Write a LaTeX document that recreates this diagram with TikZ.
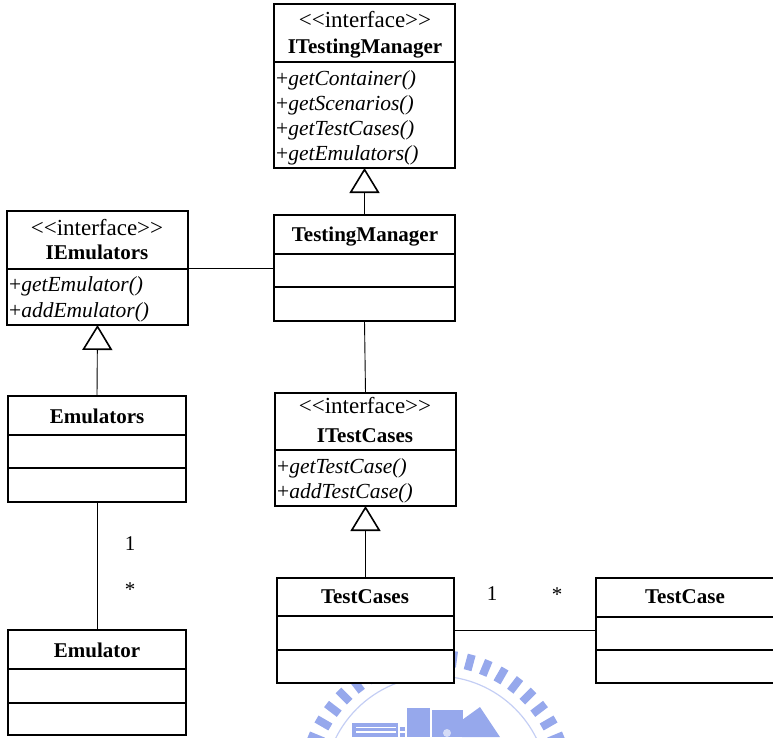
\documentclass[tikz,border=0pt]{standalone}
\usepackage{fontspec}
\setmainfont{Liberation Serif}
\usetikzlibrary{arrows.meta}

\definecolor{sealblue}{RGB}{150,168,236}
\definecolor{sealring}{RGB}{196,206,244}

\tikzset{
  classbox/.style={draw, line width=1.6pt, fill=white, inner sep=0pt, outer sep=0pt, anchor=north west},
  divider/.style={line width=1.6pt},
  txt/.style={inner sep=0pt, anchor=base, font=\fontsize{21}{25}\selectfont},
  stereotype/.style={txt, font=\fontsize{23}{25}\selectfont},
  title/.style={txt, font=\fontsize{21}{25}\selectfont\bfseries},
  op/.style={txt, anchor=base west, font=\fontsize{21.5}{25}\selectfont},
  mult/.style={txt},
  link/.style={line width=0.9pt},
  inherit/.style={line width=0.9pt, -{Triangle[open, width=30pt, length=25pt, line width=1.6pt]}},
}

% class box: name, left, top, right, bottom
\newcommand{\umlbox}[5]{%
  \node[classbox, minimum width={(#4-#2)*1pt}, minimum height={(#5-#3)*1pt}] (#1) at (#2,#3) {};}
% compartment divider inside a box at height y
\newcommand{\umldiv}[2]{\draw[divider] (#1.west |- 0,#2) -- (#1.east |- 0,#2);}
\newcommand{\opname}[1]{+\textit{#1}}
% stereotype, with the angle brackets kept apart
\newcommand{\stereo}{<{}<interface>{}>}

\begin{document}
\begin{tikzpicture}[x=1pt, y=-1pt]
\useasboundingbox (0,0) rectangle (773,737);
\clip (0,0) rectangle (773,737);

% faint seal in the background
\begin{scope}
  \coordinate (seal) at (436,788);
  \foreach \a in {0,7.5,...,180}{
    \draw[sealblue, line width=8pt]
      ({436+122*cos(\a)},{788-122*sin(\a)}) -- ({436+138*cos(\a)},{788-138*sin(\a)});
  }
  \draw[sealring, line width=1.2pt] (seal) circle[radius=112];
  \fill[sealblue] (352,723) rectangle (398,737);
  \draw[white, line width=1.2pt] (356,727.5) -- (396,727.5) (356,732) -- (396,732);
  \fill[sealblue] (400,727) rectangle (405,731);
  \fill[sealblue] (400,733) rectangle (405,737);
  \fill[sealblue] (407,708) rectangle (430,737);
  \fill[sealblue] (432,710) rectangle (463,737);
  \fill[white!60!sealblue] (447,733) circle[radius=4];
  \fill[sealblue] (462,737) -- (462,720) -- (480,707) -- (500,737) -- cycle;
\end{scope}

% ---- classes ----
\umlbox{itm}{274}{4}{455}{168}
\umldiv{itm}{62}
\node[stereotype] (itmS) at (365,27) {\stereo};
\node[title] (itmT) at (365,53) {ITestingManager};
\node[op] (itm1) at (276,85)  {\opname{getContainer()}};
\node[op] (itm2) at (276,110) {\opname{getScenarios()}};
\node[op] (itm3) at (276,135) {\opname{getTestCases()}};
\node[op] (itm4) at (276,160) {\opname{getEmulators()}};

\umlbox{tm}{274}{215}{455}{321}
\umldiv{tm}{254}
\umldiv{tm}{287}
\node[title] (tmT) at (365,241) {TestingManager};

\umlbox{iem}{7}{211}{188}{325}
\umldiv{iem}{269}
\node[stereotype] (iemS) at (97,235) {\stereo};
\node[title] (iemT) at (97,259) {IEmulators};
\node[op] (iem1) at (9,291) {\opname{getEmulator()}};
\node[op] (iem2) at (9,317) {\opname{addEmulator()}};

\umlbox{ems}{8}{396}{186}{502}
\umldiv{ems}{435}
\umldiv{ems}{468}
\node[title] (emsT) at (97,423) {Emulators};

\umlbox{em}{8}{630}{186}{735}
\umldiv{em}{669}
\umldiv{em}{703}
\node[title] (emT) at (97,657) {Emulator};

\umlbox{itc}{275}{393}{456}{506}
\umldiv{itc}{450}
\node[stereotype] (itcS) at (365,413) {\stereo};
\node[title] (itcT) at (365,442) {ITestCases};
\node[op] (itc1) at (277,473) {\opname{getTestCase()}};
\node[op] (itc2) at (277,498) {\opname{addTestCase()}};

\umlbox{tcs}{277}{578}{454}{683}
\umldiv{tcs}{616}
\umldiv{tcs}{650}
\node[title] (tcsT) at (365,603) {TestCases};

% this box runs on past the right edge of the page
\umlbox{tc}{596}{578}{900}{683}
\umldiv{tc}{617}
\umldiv{tc}{650}
\node[title] (tcT) at (685,603) {TestCase};

% ---- relations ----
\draw[inherit] (tm.north) -- (itm.south);
\draw[inherit] (ems.north) -- (iem.south);
\draw[inherit] (tcs.north) -- (itc.south);
\draw[link] (iem.east) -- (tm.west);
\draw[link] (tm.south) -- (itc.north);
\draw[link] (ems.south) -- (em.north);
\draw[link] (tcs.east) -- (tc.west);

% multiplicities
\node[mult] (m1) at (130,550) {1};
\node[mult] (m2) at (130,596) {*};
\node[mult] (m3) at (492,600) {1};
\node[mult] (m4) at (557,601) {*};
\end{tikzpicture}
\end{document}
